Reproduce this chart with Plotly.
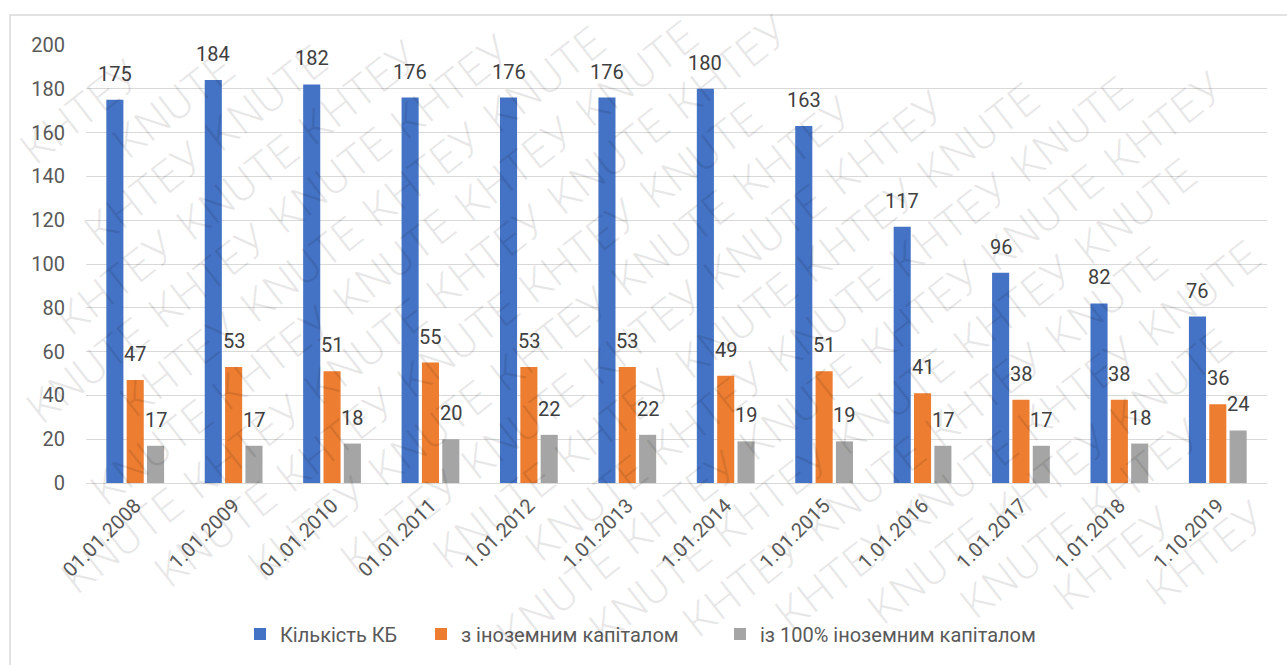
import math
import plotly.graph_objects as go

# Dates of the observations
categories = ["01.01.2008", "1.01.2009", "01.01.2010", "01.01.2011", "1.01.2012", "1.01.2013",
              "1.01.2014", "1.01.2015", "1.01.2016", "1.01.2017", "1.01.2018", "1.10.2019"]

# Number of commercial banks
banks_total = [175, 184, 182, 176, 176, 176, 180, 163, 117, 96, 82, 76]
# Banks with foreign capital
banks_foreign = [47, 53, 51, 55, 53, 53, 49, 51, 41, 38, 38, 36]
# Banks with 100% foreign capital
banks_foreign_full = [17, 17, 18, 20, 22, 22, 19, 19, 17, 17, 18, 24]

series_names = ["Кількість КБ", "з іноземним капіталом", "із 100% іноземним капіталом"]
y_ticks = [0, 20, 40, 60, 80, 100, 120, 140, 160, 180, 200]
watermark_words = ["КНТЕУ", "KNUTE"]

W, H = 1287, 665
ML, MR, MT, MB = 86, 20, 45, 182
FONT = "Roboto, 'Open Sans', sans-serif"
FS = 20
colors = ["#4472C4", "#ED7D31", "#A5A5A5"]
legend_ids = ["legend", "legend2", "legend3"]
legend_left_px = [240, 421, 720]

plot_w = W - ML - MR
plot_h = H - MT - MB


def px_to_paper(px, py):
    return (px - ML) / plot_w, 1 - (py - MT) / plot_h


fig = go.Figure()
for name, vals, col, lg in zip(series_names, [banks_total, banks_foreign, banks_foreign_full],
                               colors, legend_ids):
    fig.add_trace(go.Bar(x=categories, y=vals, name=name, legend=lg,
                         marker=dict(color=col, line_width=0)))

# value labels above each bar
slot = plot_w / len(categories) * (1 - 0.38) / 3
annotations = []
for k, vals in enumerate([banks_total, banks_foreign, banks_foreign_full]):
    for c, v in zip(categories, vals):
        annotations.append(dict(x=c, y=v, xref="x", yref="y", text=str(v), showarrow=False,
                                yanchor="bottom", xshift=(k - 1) * slot, yshift=12,
                                font=dict(family=FONT, size=FS, color="#404040")))

# diagonal watermark laid out word by word on a rotated grid
ang = math.radians(38)
ux, uy = math.cos(ang), -math.sin(ang)      # along the text
vx, vy = math.sin(ang), math.cos(ang)       # across the lines
wm_size = 44
word_w, word_h = 0.6 * wm_size * 5, 1.2 * wm_size
pitch_along, pitch_across = word_w + 22, 52
hx = word_w / 2 * abs(ux) + word_h / 2 * abs(vx)
hy = word_w / 2 * abs(uy) + word_h / 2 * abs(vy)
ox, oy = W / 2, H / 2
for j in range(-20, 21):
    for i in range(-12, 13):
        shift = (j % 2) * pitch_along / 2
        cx = ox + (i * pitch_along + shift) * ux + j * pitch_across * vx
        cy = oy + (i * pitch_along + shift) * uy + j * pitch_across * vy
        if cx - hx < 0 or cx + hx > W or cy - hy < 0 or cy + hy > H:
            continue
        xp, yp = px_to_paper(cx, cy)
        annotations.append(dict(x=xp, y=yp, xref="paper", yref="paper",
                                text=watermark_words[(i + j) % 2], showarrow=False,
                                textangle=-38, xanchor="center", yanchor="middle",
                                font=dict(family=FONT, size=wm_size, weight=300,
                                          color="rgba(0,0,0,0.09)")))

# frame of the chart area (top and left edges visible)
fx0, fy0 = px_to_paper(10, 15)
fx1, fy1 = px_to_paper(W + 20, H + 20)
shapes = [dict(type="rect", xref="paper", yref="paper", x0=fx0, x1=fx1, y0=fy1, y1=fy0,
               line=dict(color="#d9d9d9", width=1.5), layer="below")]

legend_y = px_to_paper(0, 634)[1]
legends = {}
for lg, lx in zip(legend_ids, legend_left_px):
    legends[lg] = dict(orientation="h", x=px_to_paper(lx, 0)[0], xanchor="left",
                       y=legend_y, yanchor="middle", itemwidth=30, bgcolor="rgba(0,0,0,0)",
                       font=dict(family=FONT, size=FS, color="#595959"))

fig.update_layout(
    width=W, height=H,
    margin=dict(l=ML, r=MR, t=MT, b=MB),
    paper_bgcolor="white", plot_bgcolor="white",
    barmode="group", bargap=0.38, bargroupgap=0.16,
    font=dict(family=FONT, size=FS, color="#595959"),
    showlegend=True,
    annotations=annotations,
    shapes=shapes,
    **legends,
)
fig.update_xaxes(tickangle=-45, showgrid=False, showline=False, ticks="", ticklabelstandoff=6,
                 tickfont=dict(family=FONT, size=FS, color="#595959"))
fig.update_yaxes(range=[0, 200], tickvals=y_ticks, showgrid=True, gridcolor="#d9d9d9", gridwidth=1,
                 zeroline=True, zerolinecolor="#d9d9d9", zerolinewidth=1, showline=False,
                 ticklabelstandoff=20, tickfont=dict(family=FONT, size=FS, color="#595959"))

fig.write_html("out.html")
